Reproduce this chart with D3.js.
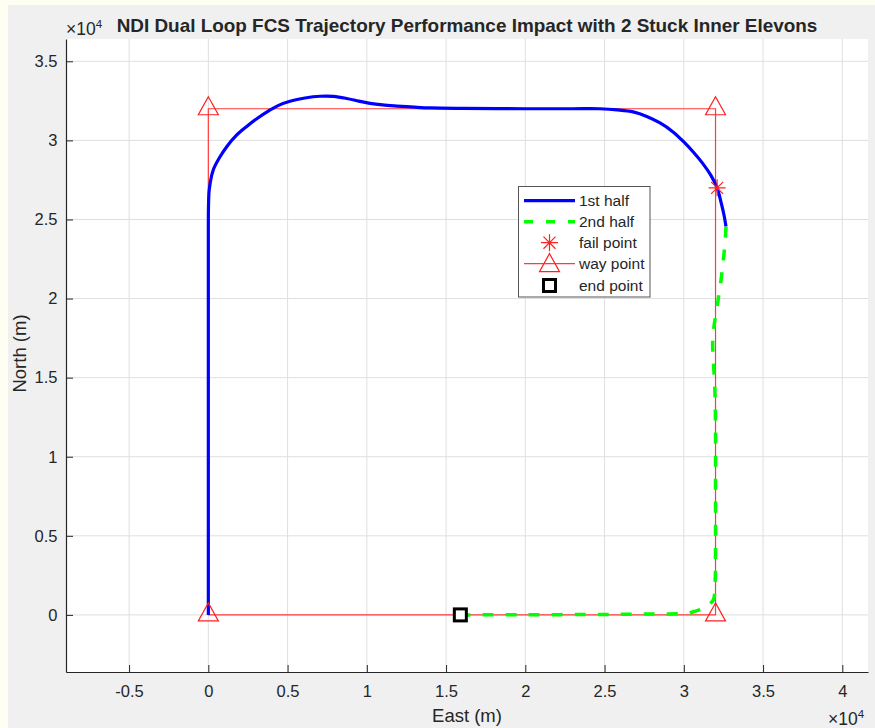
<!DOCTYPE html>
<html>
<head>
<meta charset="utf-8">
<script src="https://cdn.jsdelivr.net/npm/d3@7/dist/d3.min.js"></script>
<style>
  html, body { margin: 0; padding: 0; background: #fefef3; }
  svg { display: block; }
  text { font-family: "Liberation Sans", Arial, Helvetica, sans-serif; fill: #262626; }
</style>
</head>
<body>
<svg id="chart" width="875" height="728"></svg>
<script>
// ---------- data (units: metres) ----------
const xTickValues = [-5000, 0, 5000, 10000, 15000, 20000, 25000, 30000, 35000, 40000];
const xTickLabels = ["-0.5", "0", "0.5", "1", "1.5", "2", "2.5", "3", "3.5", "4"];
const yTickValues = [0, 5000, 10000, 15000, 20000, 25000, 30000, 35000];
const yTickLabels = ["0", "0.5", "1", "1.5", "2", "2.5", "3", "3.5"];

const wayEast  = [0, 0, 32000, 32000, 0];
const wayNorth = [0, 32000, 32000, 0, 0];

const firstHalfEast  = [0, 0, 0, 0, 10, 60, 300, 700, 1160, 1750, 2420, 3100, 3780, 4400, 5150, 6100, 7050, 7900, 8730, 9500, 10200, 11000, 11900, 13000, 14000, 16000, 20000, 23000, 24700, 25800, 26800, 27700, 28500, 29300, 30000, 30650, 31200, 31700, 32100, 32370, 32550, 32660];
const firstHalfNorth = [0, 10000, 20000, 24500, 25800, 26900, 28100, 28900, 29600, 30300, 30880, 31400, 31850, 32200, 32470, 32680, 32790, 32780, 32650, 32480, 32340, 32240, 32170, 32100, 32050, 32020, 32000, 32000, 32000, 31930, 31800, 31500, 31100, 30550, 29900, 29200, 28530, 27800, 27000, 26000, 25200, 24550];

const secondHalfEast  = [32660, 32620, 32500, 32320, 32100, 31900, 31820, 31860, 31950, 32000, 32000, 32000, 31970, 31860, 31500, 31200, 30600, 30200, 28000, 25000, 20000, 15900];
const secondHalfNorth = [24550, 23800, 22500, 20970, 19500, 18200, 17200, 16100, 14500, 12000, 8000, 4000, 2000, 950, 600, 400, 200, 100, 60, 30, 10, 0];

const failEast = [32100], failNorth = [27000];
const endEast = [15900], endNorth = [0];

const legendLabels = ["1st half", "2nd half", "fail point", "way point", "end point"];

// ---------- layout ----------
const svg = d3.select("#chart");
const L = 66, R = 868, T = 39, B = 672;

svg.append("rect").attr("x", 8).attr("y", 5).attr("width", 875 - 8).attr("height", 728 - 5).attr("fill", "#f0f0f0");
svg.append("rect").attr("x", L).attr("y", T).attr("width", R - L).attr("height", B - T).attr("fill", "#ffffff");

const x = d3.scaleLinear().domain([-8980, 41620]).range([L, R]);
const y = d3.scaleLinear().domain([-3610, 36410]).range([B, T]);

// grid
const grid = svg.append("g");
xTickValues.forEach(v => grid.append("line").attr("x1", x(v)).attr("x2", x(v)).attr("y1", T).attr("y2", B)
  .attr("stroke", "#dfdfdf").attr("stroke-width", 1));
yTickValues.forEach(v => grid.append("line").attr("y1", y(v)).attr("y2", y(v)).attr("x1", L).attr("x2", R)
  .attr("stroke", "#dfdfdf").attr("stroke-width", 1));

// axes
const xAxis = d3.axisBottom(x).tickValues(xTickValues).tickFormat((d, i) => xTickLabels[i]).tickSizeInner(-7).tickSizeOuter(0).tickPadding(13.5);
const yAxis = d3.axisLeft(y).tickValues(yTickValues).tickFormat((d, i) => yTickLabels[i]).tickSizeInner(-7).tickSizeOuter(0).tickPadding(8.5);

const gx = svg.append("g").attr("transform", `translate(0,${B})`).call(xAxis);
const gy = svg.append("g").attr("transform", `translate(${L},0)`).call(yAxis);
[gx, gy].forEach(g => {
  g.select(".domain").attr("stroke", "#262626").attr("stroke-width", 1.2);
  g.selectAll(".tick line").attr("stroke", "#262626").attr("stroke-width", 1);
  g.selectAll(".tick text").attr("font-size", 16.5).attr("fill", "#262626")
    .attr("font-family", '"Liberation Sans", Arial, sans-serif');
});

// clip
svg.append("clipPath").attr("id", "clip").append("rect").attr("x", L).attr("y", T).attr("width", R - L).attr("height", B - T);
const plot = svg.append("g").attr("clip-path", "url(#clip)");

const line = d3.line().x(d => x(d[0])).y(d => y(d[1]));
const smooth = d3.line().x(d => x(d[0])).y(d => y(d[1])).curve(d3.curveCatmullRom.alpha(0.5));

// waypoint path
const wayPts = wayEast.map((e, i) => [e, wayNorth[i]]);
plot.append("path").attr("d", line(wayPts)).attr("fill", "none").attr("stroke", "#ff3b3b").attr("stroke-width", 1.2);

// 1st half
const p1 = firstHalfEast.map((e, i) => [e, firstHalfNorth[i]]);
plot.append("path").attr("d", smooth(p1)).attr("fill", "none").attr("stroke", "#0000ff").attr("stroke-width", 3.2)
  .attr("stroke-linejoin", "round");

// 2nd half
const p2 = secondHalfEast.map((e, i) => [e, secondHalfNorth[i]]);
plot.append("path").attr("d", smooth(p2)).attr("fill", "none").attr("stroke", "#00ff00").attr("stroke-width", 3.5)
  .attr("stroke-dasharray", "11,12");

// markers
function triangle(g, cx, cy) {
  g.append("path").attr("d", `M${cx},${cy - 12}L${cx + 10},${cy + 6}L${cx - 10},${cy + 6}Z`)
    .attr("fill", "none").attr("stroke", "#ff2020").attr("stroke-width", 1.2);
}
function star(g, cx, cy) {
  const r = 8.5, d = r * Math.SQRT1_2;
  const p = `M${cx - r},${cy}L${cx + r},${cy}M${cx},${cy - r}L${cx},${cy + r}M${cx - d},${cy - d}L${cx + d},${cy + d}M${cx - d},${cy + d}L${cx + d},${cy - d}`;
  g.append("path").attr("d", p).attr("stroke", "#ff2020").attr("stroke-width", 1.2).attr("fill", "none");
}
function square(g, cx, cy) {
  g.append("rect").attr("x", cx - 6).attr("y", cy - 6).attr("width", 12).attr("height", 12)
    .attr("fill", "#ffffff").attr("stroke", "#000000").attr("stroke-width", 3);
}
const mk = svg.append("g");
wayPts.slice(0, 4).forEach(p => triangle(mk, x(p[0]), y(p[1])));
failEast.forEach((e, i) => star(mk, x(e), y(failNorth[i])));
endEast.forEach((e, i) => square(mk, x(e), y(endNorth[i])));

// title
const title = svg.append("text").attr("x", (L + R) / 2).attr("y", 32).attr("text-anchor", "middle")
  .attr("font-weight", "bold").attr("font-size", 16).attr("fill", "#000")
  .text("NDI Dual Loop FCS Trajectory Performance Impact with 2 Stuck Inner Elevons");
const tw = title.node().getComputedTextLength();
title.attr("font-size", 16 * 701 / tw);

// exponent labels
function expo(xp, yp) {
  const t = svg.append("text").attr("x", xp).attr("y", yp).attr("font-size", 17.5);
  t.append("tspan").text("×10");
  t.append("tspan").attr("font-size", 11.5).attr("dy", -7.5).text("4");
}
expo(66, 35);
expo(828, 725);

// axis labels
svg.append("text").attr("x", (L + R) / 2).attr("y", 722).attr("text-anchor", "middle").attr("font-size", 18.5).text("East (m)");
svg.append("text").attr("transform", `translate(26,${(T + B) / 2 - 2}) rotate(-90)`).attr("text-anchor", "middle")
  .attr("font-size", 18.5).text("North (m)");

// legend
const lg = svg.append("g");
lg.append("rect").attr("x", 518.5).attr("y", 186.5).attr("width", 131.5).attr("height", 110.5)
  .attr("fill", "#ffffff").attr("stroke", "#555555").attr("stroke-width", 1);
const rowY = [200.7, 221.7, 242.7, 263.6, 285.5];
const sx0 = 524, sx1 = 575, sxm = 549.5, tx = 579;
lg.append("line").attr("x1", sx0).attr("x2", sx1).attr("y1", rowY[0]).attr("y2", rowY[0]).attr("stroke", "#0000ff").attr("stroke-width", 3.2);
lg.append("line").attr("x1", sx0).attr("x2", sx1).attr("y1", rowY[1]).attr("y2", rowY[1]).attr("stroke", "#00ff00").attr("stroke-width", 3.5).attr("stroke-dasharray", "9,13");
star(lg, sxm, rowY[2]);
lg.append("line").attr("x1", sx0).attr("x2", sx1).attr("y1", rowY[3]).attr("y2", rowY[3]).attr("stroke", "#ff3b3b").attr("stroke-width", 1.2);
triangle(lg, sxm, rowY[3] + 2);
square(lg, sxm, rowY[4]);
legendLabels.forEach((t, i) => lg.append("text").attr("x", tx).attr("y", rowY[i]).attr("dy", "0.36em")
  .attr("font-size", 15.5).attr("fill", "#000").text(t));
</script>
</body>
</html>
